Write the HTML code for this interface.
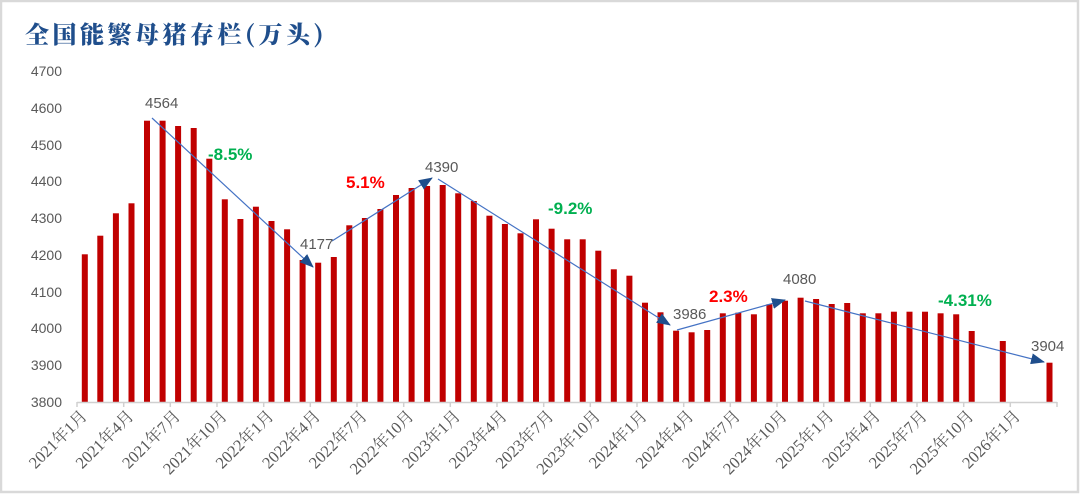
<!DOCTYPE html>
<html><head><meta charset="utf-8"><style>
html,body{margin:0;padding:0;background:#fff}
svg{display:block}
</style></head><body>
<svg width="1080" height="494" viewBox="0 0 1080 494" xmlns="http://www.w3.org/2000/svg">
<rect x="1" y="1" width="1077" height="491" fill="#fff" stroke="#d9d9d9" stroke-width="2.5"/>
<text x="25" y="43" font-family="'Noto Serif CJK SC','Liberation Serif',serif" font-weight="900" font-size="24" letter-spacing="3.5" fill="#1f4e8c">全国能繁母猪存栏(万头)</text>
<g font-family="'Liberation Sans',sans-serif" font-size="14" fill="#595959" text-anchor="end">
<text x="62" y="76">4700</text><text x="62" y="113">4600</text><text x="62" y="150">4500</text><text x="62" y="186">4400</text><text x="62" y="223">4300</text><text x="62" y="260">4200</text><text x="62" y="297">4100</text><text x="62" y="333">4000</text><text x="62" y="370">3900</text><text x="62" y="407">3800</text>
</g>
<g fill="#c00000">
<rect x="81.8" y="254.3" width="6" height="147.7"/><rect x="97.3" y="235.7" width="6" height="166.3"/><rect x="112.9" y="213.3" width="6" height="188.7"/><rect x="128.5" y="203.3" width="6" height="198.7"/><rect x="144" y="120.7" width="6" height="281.3"/><rect x="159.6" y="120.7" width="6" height="281.3"/><rect x="175.1" y="126" width="6" height="276"/><rect x="190.7" y="128" width="6" height="274"/><rect x="206.3" y="158.7" width="6" height="243.3"/><rect x="221.8" y="199.3" width="6" height="202.7"/><rect x="237.4" y="219" width="6" height="183"/><rect x="252.9" y="206.7" width="6" height="195.3"/><rect x="268.5" y="221" width="6" height="181"/><rect x="284.1" y="229.3" width="6" height="172.7"/><rect x="299.6" y="260" width="6" height="142"/><rect x="315.2" y="262.7" width="6" height="139.3"/><rect x="330.8" y="257" width="6" height="145"/><rect x="346.3" y="225.3" width="6" height="176.7"/><rect x="361.9" y="218" width="6" height="184"/><rect x="377.4" y="209" width="6" height="193"/><rect x="393" y="195" width="6" height="207"/><rect x="408.6" y="188" width="6" height="214"/><rect x="424.1" y="186" width="6" height="216"/><rect x="439.7" y="185" width="6" height="217"/><rect x="455.2" y="193.3" width="6" height="208.7"/><rect x="470.8" y="201" width="6" height="201"/><rect x="486.4" y="215.7" width="6" height="186.3"/><rect x="501.9" y="224" width="6" height="178"/><rect x="517.5" y="233.3" width="6" height="168.7"/><rect x="533" y="219.3" width="6" height="182.7"/><rect x="548.6" y="228.7" width="6" height="173.3"/><rect x="564.2" y="239.3" width="6" height="162.7"/><rect x="579.7" y="239.3" width="6" height="162.7"/><rect x="595.3" y="250.7" width="6" height="151.3"/><rect x="610.8" y="269.3" width="6" height="132.7"/><rect x="626.4" y="275.7" width="6" height="126.3"/><rect x="642" y="302.7" width="6" height="99.3"/><rect x="657.5" y="312.3" width="6" height="89.7"/><rect x="673.1" y="330.7" width="6" height="71.3"/><rect x="688.6" y="332.3" width="6" height="69.7"/><rect x="704.2" y="330" width="6" height="72"/><rect x="719.8" y="313.3" width="6" height="88.7"/><rect x="735.3" y="312.7" width="6" height="89.3"/><rect x="750.9" y="314.3" width="6" height="87.7"/><rect x="766.4" y="304.3" width="6" height="97.7"/><rect x="782" y="300.7" width="6" height="101.3"/><rect x="797.6" y="297.7" width="6" height="104.3"/><rect x="813.1" y="299" width="6" height="103"/><rect x="828.7" y="304" width="6" height="98"/><rect x="844.2" y="303" width="6" height="99"/><rect x="859.8" y="313.3" width="6" height="88.7"/><rect x="875.4" y="313.3" width="6" height="88.7"/><rect x="890.9" y="311.7" width="6" height="90.3"/><rect x="906.5" y="311.7" width="6" height="90.3"/><rect x="922" y="311.7" width="6" height="90.3"/><rect x="937.6" y="313.3" width="6" height="88.7"/><rect x="953.2" y="314.3" width="6" height="87.7"/><rect x="968.7" y="331" width="6" height="71"/><rect x="999.8" y="341" width="6" height="61"/><rect x="1046.5" y="362.7" width="6" height="39.3"/>
</g>
<g stroke="#d0d0d0" stroke-width="1.5">
<line x1="77" y1="402.5" x2="1057" y2="402.5"/>
<line x1="77" y1="402" x2="77" y2="407"/><line x1="123.7" y1="402" x2="123.7" y2="407"/><line x1="170.3" y1="402" x2="170.3" y2="407"/><line x1="217" y1="402" x2="217" y2="407"/><line x1="263.7" y1="402" x2="263.7" y2="407"/><line x1="310.3" y1="402" x2="310.3" y2="407"/><line x1="357" y1="402" x2="357" y2="407"/><line x1="403.7" y1="402" x2="403.7" y2="407"/><line x1="450.3" y1="402" x2="450.3" y2="407"/><line x1="497" y1="402" x2="497" y2="407"/><line x1="543.7" y1="402" x2="543.7" y2="407"/><line x1="590.3" y1="402" x2="590.3" y2="407"/><line x1="637" y1="402" x2="637" y2="407"/><line x1="683.7" y1="402" x2="683.7" y2="407"/><line x1="730.3" y1="402" x2="730.3" y2="407"/><line x1="777" y1="402" x2="777" y2="407"/><line x1="823.7" y1="402" x2="823.7" y2="407"/><line x1="870.3" y1="402" x2="870.3" y2="407"/><line x1="917" y1="402" x2="917" y2="407"/><line x1="963.7" y1="402" x2="963.7" y2="407"/><line x1="1010.3" y1="402" x2="1010.3" y2="407"/><line x1="1057" y1="402" x2="1057" y2="407"/>
</g>
<g font-family="'Liberation Serif','Noto Serif CJK SC',serif" font-size="16.5" fill="#595959" text-anchor="end">
<text transform="translate(88,417) rotate(-45)">2021年1月</text>
<text transform="translate(134.7,417) rotate(-45)">2021年4月</text>
<text transform="translate(181.3,417) rotate(-45)">2021年7月</text>
<text transform="translate(228,417) rotate(-45)">2021年10月</text>
<text transform="translate(274.7,417) rotate(-45)">2022年1月</text>
<text transform="translate(321.3,417) rotate(-45)">2022年4月</text>
<text transform="translate(368,417) rotate(-45)">2022年7月</text>
<text transform="translate(414.7,417) rotate(-45)">2022年10月</text>
<text transform="translate(461.3,417) rotate(-45)">2023年1月</text>
<text transform="translate(508,417) rotate(-45)">2023年4月</text>
<text transform="translate(554.7,417) rotate(-45)">2023年7月</text>
<text transform="translate(601.3,417) rotate(-45)">2023年10月</text>
<text transform="translate(648,417) rotate(-45)">2024年1月</text>
<text transform="translate(694.7,417) rotate(-45)">2024年4月</text>
<text transform="translate(741.3,417) rotate(-45)">2024年7月</text>
<text transform="translate(788,417) rotate(-45)">2024年10月</text>
<text transform="translate(834.7,417) rotate(-45)">2025年1月</text>
<text transform="translate(881.3,417) rotate(-45)">2025年4月</text>
<text transform="translate(928,417) rotate(-45)">2025年7月</text>
<text transform="translate(974.7,417) rotate(-45)">2025年10月</text>
<text transform="translate(1021.3,417) rotate(-45)">2026年1月</text>
</g>
<defs><marker id="a" markerWidth="14" markerHeight="11" refX="13" refY="5.5" orient="auto" markerUnits="userSpaceOnUse"><path d="M0,0 L14,5.5 L0,11 z" fill="#1f4e8c"/></marker></defs>
<g stroke="#4472c4" stroke-width="1.2" fill="none" marker-end="url(#a)">
<line x1="152" y1="118" x2="313" y2="267"/>
<line x1="332" y1="241" x2="432" y2="178"/>
<line x1="438" y1="179" x2="670" y2="325"/>
<line x1="677" y1="330" x2="785" y2="300"/>
<line x1="805" y1="301" x2="1044" y2="362"/>
</g>
<g font-family="'Liberation Sans',sans-serif" font-size="15" fill="#595959">
<text x="145" y="108">4564</text><text x="300" y="249">4177</text><text x="425" y="172">4390</text><text x="673" y="319">3986</text><text x="783" y="284">4080</text><text x="1031" y="351">3904</text>
</g>
<g font-family="'Liberation Sans',sans-serif" font-size="17" font-weight="bold">
<text x="208" y="160" fill="#00b050">-8.5%</text>
<text x="346" y="188" fill="#ff0000">5.1%</text>
<text x="548" y="214" fill="#00b050">-9.2%</text>
<text x="709" y="302" fill="#ff0000">2.3%</text>
<text x="938" y="306" fill="#00b050">-4.31%</text>
</g>
</svg>
</body></html>
